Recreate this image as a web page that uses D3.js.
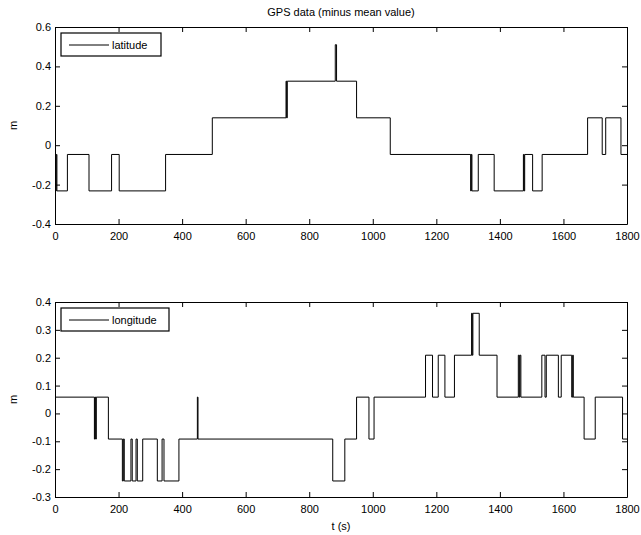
<!DOCTYPE html>
<html>
<head>
<meta charset="utf-8">
<script src="https://cdn.jsdelivr.net/npm/d3@7"></script>
<style>
  body { margin: 0; background: #fff; }
  text { font-family: "Liberation Sans", Arial, sans-serif; }
</style>
</head>
<body>
<svg id="svg-area"></svg>
<script>
/* データ (値が変わる時刻と、その後の値) */
let latT = [0, 2, 4, 6, 39, 107, 178, 202, 348, 495, 727, 729, 731, 882, 886, 949, 1055,
  1308, 1310, 1312, 1332, 1382, 1474, 1476, 1478, 1503, 1533, 1676, 1722, 1733, 1781, 1800];
let latV = [-0.047, -0.232, -0.047, -0.232, -0.047, -0.232, -0.047, -0.232, -0.047, 0.139,
  0.325, 0.139, 0.325, 0.51, 0.325, 0.139, -0.047, -0.232, -0.047, -0.232, -0.047, -0.232,
  -0.047, -0.232, -0.047, -0.232, -0.047, 0.139, -0.047, 0.139, -0.047, -0.047];

let lonT = [0, 124, 126, 128, 130, 168, 212, 215, 218, 239, 243, 255, 259, 276, 322, 337,
  343, 390, 448, 450, 874, 912, 949, 988, 1004, 1166, 1188, 1206, 1227, 1257, 1311, 1313,
  1315, 1335, 1391, 1458, 1461, 1463, 1466, 1532, 1542, 1546, 1584, 1593, 1626, 1629, 1631,
  1665, 1700, 1786, 1800];
let lonV = [0.0585, -0.092, 0.0585, -0.092, 0.0585, -0.092, -0.2425, -0.092, -0.2425,
  -0.092, -0.2425, -0.092, -0.2425, -0.092, -0.2425, -0.092, -0.2425, -0.092, 0.0585, -0.092,
  -0.2425, -0.092, 0.0585, -0.092, 0.0585, 0.209, 0.0585, 0.209, 0.0585, 0.209, 0.3595, 0.209,
  0.3595, 0.209, 0.0585, 0.209, 0.0585, 0.209, 0.0585, 0.209, 0.0585, 0.209, 0.0585, 0.209,
  0.0585, 0.209, 0.0585, -0.092, 0.0585, -0.092, -0.092];

let xTicks = [0, 200, 400, 600, 800, 1000, 1200, 1400, 1600, 1800];
let latTicks = [-0.4, -0.2, 0, 0.2, 0.4, 0.6];
let lonTicks = [-0.3, -0.2, -0.1, 0, 0.1, 0.2, 0.3, 0.4];

let width = 641;
let height = 535;

let svg = d3.select("#svg-area")
  .attr("width", width)
  .attr("height", height);

let fmt = d => String(+d.toFixed(1));

/* 1つのサブプロットを描く */
function drawPanel(top, bottom, yDomain, yTicks, ts, vs, label) {
  let left = 55, right = 627;
  let xScale = d3.scaleLinear().domain([0, 1800]).range([left, right]);
  let yScale = d3.scaleLinear().domain(yDomain).range([bottom, top]);
  let g = svg.append("g");

  // 軸 (目盛りは内向き)
  g.append("g")
    .attr("transform", "translate(0," + bottom + ")")
    .call(d3.axisBottom(xScale).tickValues(xTicks).tickSize(-5).tickSizeOuter(0)
      .tickPadding(8).tickFormat(d => d));
  g.append("g")
    .attr("transform", "translate(0," + top + ")")
    .call(d3.axisTop(xScale).tickValues(xTicks).tickSize(-5).tickSizeOuter(0).tickFormat(""));
  g.append("g")
    .attr("transform", "translate(" + left + ",0)")
    .call(d3.axisLeft(yScale).tickValues(yTicks).tickSize(-5).tickSizeOuter(0)
      .tickPadding(4).tickFormat(fmt));
  g.append("g")
    .attr("transform", "translate(" + right + ",0)")
    .call(d3.axisRight(yScale).tickValues(yTicks).tickSize(-5).tickSizeOuter(0).tickFormat(""));

  g.selectAll(".tick text")
    .attr("font-size", 11)
    .attr("font-family", "Liberation Sans, Arial, sans-serif")
    .attr("fill", "#000");
  g.selectAll(".domain, .tick line").attr("stroke", "#000");

  // 折れ線 (ステップ)
  let pts = ts.map((t, i) => [t, vs[i]]);
  let line = d3.line()
    .x(d => xScale(d[0]))
    .y(d => yScale(d[1]))
    .curve(d3.curveStepAfter);
  g.append("path")
    .datum(pts)
    .attr("d", line)
    .attr("fill", "none")
    .attr("stroke", "#000")
    .attr("stroke-width", 1);

  // y 軸ラベル
  g.append("text")
    .attr("transform", "translate(17," + ((top + bottom) / 2) + ") rotate(-90)")
    .attr("text-anchor", "middle")
    .attr("font-size", 11)
    .text("m");

  // 凡例
  let lw = label === "latitude" ? 100 : 108;
  let lg = g.append("g").attr("transform", "translate(" + (left + 6) + "," + (top + 6) + ")");
  lg.append("rect")
    .attr("width", lw).attr("height", 23)
    .attr("fill", "#fff").attr("stroke", "#000").attr("stroke-width", 1.2);
  lg.append("line")
    .attr("x1", 8).attr("x2", 48).attr("y1", 12).attr("y2", 12)
    .attr("stroke", "#000");
  lg.append("text")
    .attr("x", 51).attr("y", 16)
    .attr("font-size", 11)
    .text(label);
}

drawPanel(27, 224, [-0.4, 0.6], latTicks, latT, latV, "latitude");
drawPanel(302, 497, [-0.3, 0.4], lonTicks, lonT, lonV, "longitude");

/* タイトルと x 軸ラベル */
svg.append("text")
  .attr("x", 341).attr("y", 16)
  .attr("text-anchor", "middle")
  .attr("font-size", 11)
  .text("GPS data (minus mean value)");
svg.append("text")
  .attr("x", 341).attr("y", 530)
  .attr("text-anchor", "middle")
  .attr("font-size", 11)
  .text("t (s)");
</script>
</body>
</html>
